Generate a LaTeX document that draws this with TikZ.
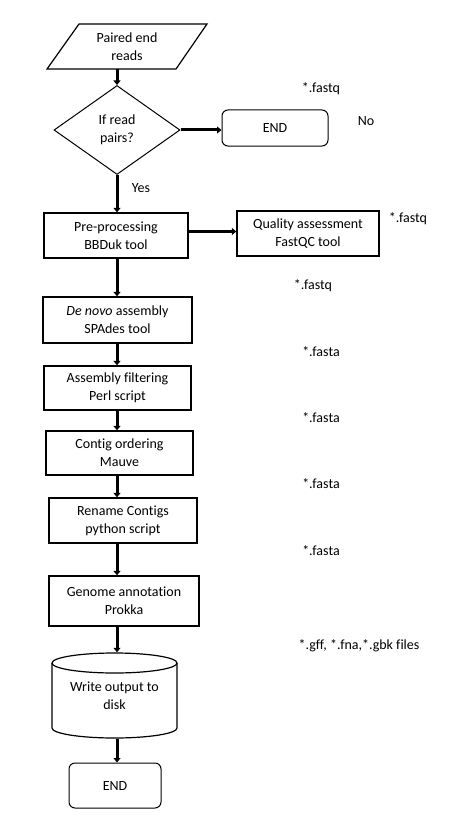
\documentclass[tikz,border=0pt]{standalone}
\usepackage{fontspec}
\setmainfont[Ligatures=NoCommon]{Carlito}
\usetikzlibrary{shapes.geometric,arrows.meta,calc}
\begin{document}
\begin{tikzpicture}[x=1pt,y=-1pt,
  every node/.style={font=\fontsize{14}{18}\selectfont},
  box/.style={draw,line width=1.3pt,align=center,inner sep=0pt},
  term/.style={draw,line width=1pt,rounded corners=6pt,align=center,inner sep=0pt},
  lbl/.style={inner sep=0pt},
  arr/.style={line width=3pt,-{Triangle[width=7pt,length=4.5pt]}}]
\useasboundingbox (0,0) rectangle (463,824);
% parallelogram input
\draw[line width=1.2pt] (79,24) -- (207,24) -- (176,69) -- (47,69) -- cycle;
\node[align=center,minimum width=120pt,minimum height=45pt,inner sep=0pt] (p) at (127,46.5) {Paired end\\reads};
% decision
\node[draw,diamond,line width=1pt,minimum width=126pt,minimum height=89pt,inner sep=0pt,aspect=1.4,align=center] (d) at (117,130) {If read\\pairs?};
\node[term,minimum width=106pt,minimum height=36pt] (e1) at (275,128) {END};
% process boxes
\node[box,minimum width=144pt,minimum height=45pt] (pre) at (116,235.5) {Pre-processing\\BBDuk tool};
\node[box,minimum width=142pt,minimum height=45pt] (qa) at (308,233.5) {Quality assessment\\FastQC tool};
\node[box,minimum width=149pt,minimum height=46pt] (dn) at (117.5,320) {\textit{De novo} assembly\\SPAdes tool};
\node[box,minimum width=147pt,minimum height=44pt] (af) at (117.5,388) {Assembly filtering\\Perl script};
\node[box,minimum width=147pt,minimum height=44pt] (co) at (119.5,453) {Contig ordering\\Mauve};
\node[box,minimum width=148pt,minimum height=45pt] (rc) at (123,520.5) {Rename Contigs\\python script};
\node[box,minimum width=150pt,minimum height=50pt] (ga) at (124,601) {Genome annotation\\Prokka};
% cylinder
\draw[line width=1.2pt] (114.5,663) ellipse [x radius=62.5pt, y radius=10pt];
\draw[line width=1.2pt] (52,663) -- (52,728) arc[start angle=180,end angle=360,x radius=62.5pt,y radius=10pt] -- (177,663);
\node[align=center,minimum width=125pt,minimum height=85pt,inner sep=0pt] (cy) at (114.5,695.5) {Write output to\\disk};
\node[term,minimum width=92pt,minimum height=45pt] (e2) at (115,785.5) {END};
% labels
\node[lbl] (l1) at (321,89) {*.fastq};
\node[lbl] (l2) at (366,121) {No};
\node[lbl] (l3) at (141,188) {Yes};
\node[lbl] (l4) at (408,219) {*.fastq};
\node[lbl] (l5) at (313,286) {*.fastq};
\node[lbl] (l6) at (321,352) {*.fasta};
\node[lbl] (l7) at (321,418) {*.fasta};
\node[lbl] (l8) at (321,484) {*.fasta};
\node[lbl] (l9) at (321,551) {*.fasta};
\node[lbl] (l10) at (359,646) {*.gff, *.fna,*.gbk files};
% connectors
\draw[arr] (d |- p.south) -- (d.north);
\draw[arr] (d.east) -- (d.east -| e1.west);
\draw[arr] (d.south) -- (d |- pre.north);
\draw[arr] ([yshift=4pt]pre.east) -- ([yshift=4pt]pre.east -| qa.west);
\draw[arr] (d |- pre.south) -- (d |- dn.north);
\draw[arr] (d |- dn.south) -- (d |- af.north);
\draw[arr] (d |- af.south) -- (d |- co.north);
\draw[arr] (d |- co.south) -- (d |- rc.north);
\draw[arr] (d |- rc.south) -- (d |- ga.north);
\draw[arr] (d |- ga.south) -- ($(d |- cy.north)+(0,-0.5)$);
\draw[arr] ($(d |- cy.south)+(0,0.5)$) -- (d |- e2.north);
\end{tikzpicture}
\end{document}
